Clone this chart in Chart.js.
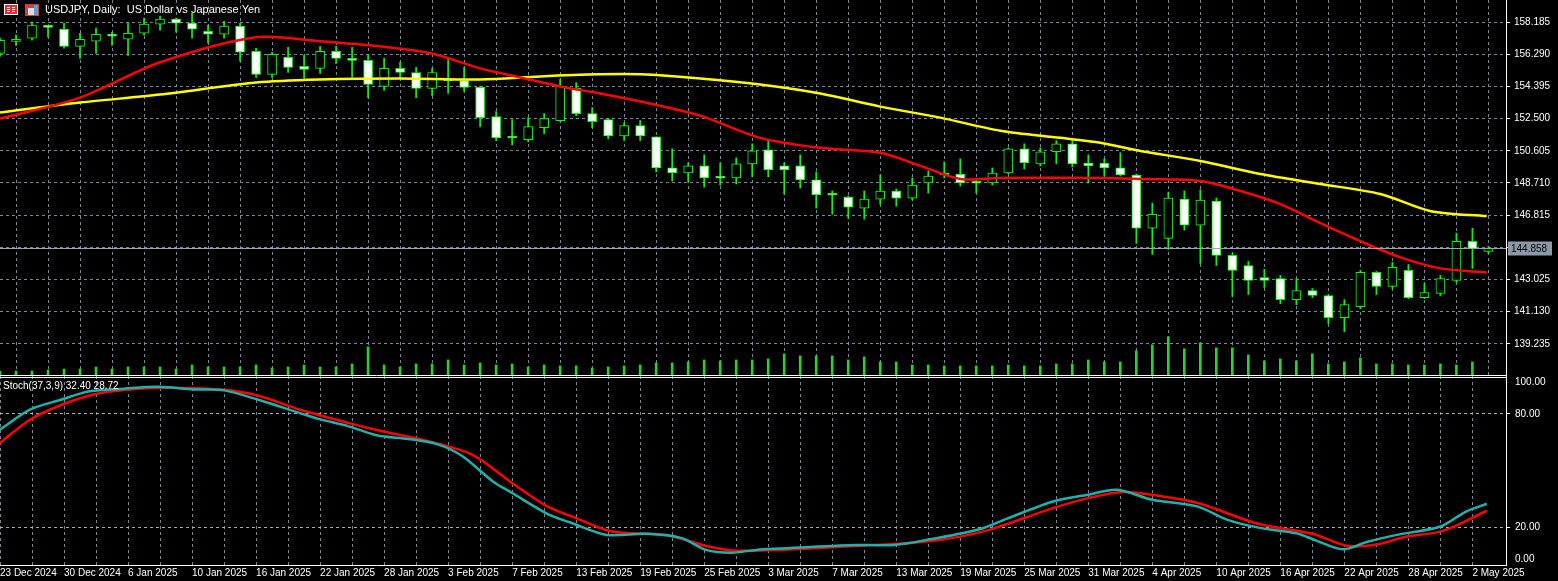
<!DOCTYPE html>
<html><head><meta charset="utf-8">
<script src="https://cdn.jsdelivr.net/npm/chart.js@4.4.1/dist/chart.umd.min.js"></script>
<style>
html,body{margin:0;padding:0;background:#000;overflow:hidden}
#top{position:absolute;left:0;top:0;width:1558px;height:376px}
#bot{position:absolute;left:0;top:376px;width:1558px;height:205px}
</style></head><body>
<div id="top"><canvas id="c1"></canvas></div>
<div id="bot"><canvas id="c2"></canvas></div>
<script>
const dateLabels = {0:'23 Dec 2024',4:'30 Dec 2024',8:'6 Jan 2025',12:'10 Jan 2025',16:'16 Jan 2025',20:'22 Jan 2025',24:'28 Jan 2025',28:'3 Feb 2025',32:'7 Feb 2025',36:'13 Feb 2025',40:'19 Feb 2025',44:'25 Feb 2025',48:'3 Mar 2025',52:'7 Mar 2025',56:'13 Mar 2025',60:'19 Mar 2025',64:'25 Mar 2025',68:'31 Mar 2025',72:'4 Apr 2025',76:'10 Apr 2025',80:'16 Apr 2025',84:'22 Apr 2025',88:'28 Apr 2025',92:'2 May 2025'};
const priceTicks = [139.235,141.130,143.025,144.920,146.815,148.710,150.605,152.500,154.395,156.290,158.185];
const opens  = [156.35,157.05,157.24,157.90,157.77,156.76,157.06,157.47,157.18,157.53,158.07,158.36,158.13,157.65,157.47,157.95,156.47,155.11,156.11,155.58,155.46,156.47,156.05,155.93,154.40,155.46,155.22,154.28,154.76,154.75,154.34,152.62,151.38,151.26,151.97,152.38,154.28,152.80,152.44,151.49,152.09,151.43,149.60,149.30,149.72,149.02,149.01,149.84,150.67,149.72,149.72,148.89,148.01,147.88,147.23,147.76,148.24,147.82,148.71,149.19,149.24,148.72,148.71,149.30,150.72,149.84,150.55,151.02,149.89,149.89,149.60,149.18,146.05,145.45,147.76,146.22,147.64,144.45,143.85,143.14,143.08,141.84,142.37,142.08,140.77,141.43,143.44,142.61,143.56,141.96,142.20,142.97,145.28,144.68];
const highs  = [157.24,157.42,158.19,157.92,158.13,157.53,157.83,157.59,158.13,158.42,158.54,158.42,158.72,158.01,158.24,158.13,156.65,156.41,156.70,156.23,156.76,156.76,156.70,156.23,156.05,155.82,155.52,155.46,156.05,155.52,154.40,152.91,152.44,152.56,152.80,154.81,154.63,153.15,152.50,152.26,152.38,151.43,150.72,149.89,150.37,149.89,150.19,151.02,151.20,149.89,150.37,149.36,148.24,147.94,148.24,149.18,148.35,149.01,149.42,149.95,150.13,148.95,149.60,150.78,151.02,150.78,151.20,151.20,150.37,150.13,150.49,149.24,147.52,148.18,148.24,148.30,147.82,144.56,144.09,143.62,143.26,143.08,142.49,142.14,141.84,143.56,143.50,144.03,143.91,142.79,143.26,145.75,146.04,144.98];
const lows   = [156.17,156.82,157.12,157.30,156.65,156.05,156.35,156.82,156.23,157.42,157.71,157.59,157.24,156.94,157.24,155.88,154.93,154.93,155.22,154.87,155.17,155.76,154.93,153.74,154.16,154.93,153.74,153.86,153.98,154.10,152.03,151.20,150.96,151.14,151.61,152.32,152.68,151.97,151.32,151.20,151.20,149.36,148.83,148.77,148.47,148.59,148.65,149.07,149.07,148.06,148.41,147.23,146.87,146.64,146.58,147.45,147.35,147.70,148.12,149.01,148.53,148.12,148.59,149.24,149.54,149.72,149.84,149.66,148.71,149.12,149.12,145.16,144.50,144.80,145.93,143.97,143.85,142.02,142.14,142.55,141.60,141.54,141.96,140.42,139.95,141.31,142.14,142.49,141.90,141.90,142.08,142.85,143.68,144.56];
const closes = [157.12,157.08,158.01,157.88,156.76,157.18,157.47,157.36,157.53,158.07,158.36,158.13,157.77,157.47,157.95,156.41,155.11,156.29,155.52,155.40,156.47,156.05,155.93,154.51,155.46,155.22,154.28,155.22,154.73,154.34,152.56,151.37,151.36,152.03,152.50,154.40,152.80,152.32,151.49,152.09,151.49,149.60,149.30,149.72,149.01,149.00,149.84,150.60,149.48,149.48,148.89,148.00,147.99,147.29,147.76,148.24,147.82,148.59,149.12,149.18,148.71,148.70,149.30,150.72,149.89,150.55,151.02,149.84,149.72,149.60,149.18,146.05,146.87,147.82,146.22,147.70,144.45,143.56,142.97,142.97,141.84,142.37,142.08,140.77,141.54,143.44,142.61,143.74,141.96,142.26,143.08,145.28,144.86,144.86];
const volumes = [5,5,5,6,7,7,9,7,9,9,9,7,11,9,9,9,11,8,9,11,9,9,12,29,11,9,12,12,16,11,13,11,12,9,11,10,10,8,9,10,11,13,13,14,16,15,16,16,17,22,20,20,20,16,19,14,14,11,11,10,10,10,10,11,10,10,12,12,16,14,14,25,31,39,27,33,28,28,21,15,17,15,22,12,14,18,12,12,11,11,12,11,14,0];
const maRedX = [0,5,10,16,20,23.1,26.9,30,32.5,35,37.5,40.6,43.75,47.5,51.25,55,57.5,60,62.5,68.75,71.25,75,77.5,80,82.5,85,87.5,90,92.9];
const maRedY = [152.50,153.74,155.82,157.30,157.06,156.82,156.35,155.46,154.93,154.40,153.98,153.39,152.68,151.37,150.78,150.49,149.72,148.95,149.01,149.01,148.95,148.83,148.24,147.47,146.34,145.28,144.33,143.68,143.44];
const maYelX = [0,5,10,16,20,25,30,33.75,37.5,40,43.75,47.5,51.25,55,58.75,62.5,66.25,68.75,71.25,75,78.75,82.5,86.25,89.4,92.9];
const maYelY = [152.86,153.45,153.92,154.63,154.81,154.87,154.81,154.99,155.11,155.11,154.87,154.51,153.98,153.21,152.56,151.79,151.37,151.08,150.60,150.01,149.24,148.65,148.06,147.05,146.76];
const stMainX = [0,1.9,3.75,5.6,7.75,9.9,12.1,14,16.2,18.7,19.9,21.75,23.6,25.5,27.4,28.9,30.8,32,34.2,35.75,37.9,40.4,42.6,44.1,45.7,47.25,48.75,53.4,55.9,58.1,61.2,63,65.8,68,69.8,72,74.8,76.7,78.8,81,82.25,83.9,85.4,87.2,90,91.6,92.9];
const stMainY = [71.7,82.3,87.3,91.9,93.3,94.3,92.9,92.4,87.3,80.5,77.3,73.5,68.5,66.7,63.7,57.5,44.2,38.1,27.1,22.1,15.9,16.5,14.2,8.0,6.5,8.0,8.7,10.6,10.6,13.6,18.9,24.8,33.6,37.2,39.8,34.5,31.0,23.9,19.5,16.8,12.9,8.3,12.2,15.8,20.4,28.3,32.4];
const stSigX = [0,1.9,3.75,5.9,7.75,10.25,14,16.2,18.7,21.75,23.6,26.75,29.5,32,34.2,36,38.25,41.6,44.1,46,48.75,53.4,56.2,59,61.8,65.8,68,70.2,72.4,74.9,78.6,82,84.2,86.1,87.7,90.2,92.9];
const stSigY = [64.6,77.0,84.4,90.3,92.6,93.8,92.7,89.4,82.3,75.2,71.3,65.5,58.4,43.4,31.0,24.8,17.7,15.9,10.1,7.6,8.0,10.1,11.2,13.6,18.6,30.1,35.4,38.6,36.6,32.7,21.8,16.5,10.1,11.0,14.7,18.2,28.7];
const lastPrice = 144.858;
const stochLabel = 'Stoch(37,3,9) 32.40 28.72';
const titleText = 'USDJPY, Daily:  US Dollar vs Japanese Yen';

const XMAX = 94.1;
const GRID = '#778899';
const LIME = '#00ff00';
const FONT = {family:'Liberation Sans', size:10};
const idx = opens.map((_,i)=>i);
const bull = idx.map(i=>closes[i]>=opens[i]);
const pts = (xs,ys)=>xs.map((x,i)=>({x,y:ys[i]}));
function fixW(a){a.width=52;a.paddingTop=0;a.paddingBottom=0;}

const topPlugin = {
  id:'topDeco',
  afterDatasetsDraw(c){
    const ctx=c.ctx, y=c.scales.y, a=c.chartArea;
    const py=Math.round(y.getPixelForValue(lastPrice))+0.5;
    ctx.save();
    ctx.strokeStyle='#9aa6b2';ctx.lineWidth=1;
    ctx.beginPath();ctx.moveTo(a.left,py);ctx.lineTo(a.right,py);ctx.stroke();
    ctx.fillStyle='#8c9aa8';ctx.fillRect(a.right+2,py-7,44,14);
    ctx.fillStyle='#000';ctx.font='10px Liberation Sans';ctx.textBaseline='middle';ctx.textAlign='left';
    ctx.fillText(lastPrice.toFixed(3),a.right+5,py+0.5);
    // title & icons
    ctx.fillStyle='#fff';ctx.fillRect(4,4,14,11);ctx.fillStyle='#e03030';ctx.fillRect(5,5,12,9);
    ctx.fillStyle='#fff';ctx.fillRect(7,7,3,1);ctx.fillRect(7,9,3,1);ctx.fillRect(7,11,3,1);ctx.fillRect(12,7,3,1);ctx.fillRect(12,9,3,1);ctx.fillRect(12,11,3,1);
    ctx.fillStyle='#d04040';ctx.fillRect(25,4,14,12);ctx.fillStyle='#ddd';ctx.fillRect(28,8,6,7);ctx.fillStyle='#5aa0d0';ctx.fillRect(34,5,4,10);
    ctx.fillStyle='#fff';ctx.font='11px Liberation Sans';ctx.textBaseline='middle';
    ctx.fillText(titleText,45,10);
    ctx.strokeStyle='#fff';ctx.beginPath();ctx.moveTo(0,375.5);ctx.lineTo(a.right,375.5);ctx.stroke();
    ctx.restore();
  }
};
const botPlugin = {
  id:'botDeco',
  afterDraw(c){
    const ctx=c.ctx, y=c.scales.y, a=c.chartArea;
    ctx.save();
    ctx.strokeStyle='#fff';ctx.lineWidth=1;
    ctx.beginPath();ctx.moveTo(0,1.5);ctx.lineTo(a.right,1.5);ctx.stroke();
    ctx.fillStyle='#fff';ctx.font='10px Liberation Sans';ctx.textBaseline='middle';ctx.textAlign='left';
    [[100,6],[80,0],[20,0],[0,-6]].forEach(([v,off])=>{ctx.fillText(v.toFixed(2),a.right+9,y.getPixelForValue(v)+off);});
    ctx.fillText(stochLabel,3,10);
    ctx.restore();
  }
};

new Chart(document.getElementById('c1'),{
  type:'bar',
  data:{datasets:[
    {type:'line',label:'MA red',data:pts(maRedX,maRedY),borderColor:'#ff0000',borderWidth:2.5,pointRadius:0,tension:0.3,yAxisID:'y',order:1},
    {type:'line',label:'MA yellow',data:pts(maYelX,maYelY),borderColor:'#ffff00',borderWidth:2.5,pointRadius:0,tension:0.3,yAxisID:'y',order:1},
    {label:'body',data:idx.map(i=>({x:i,y:[opens[i],closes[i]]})),backgroundColor:idx.map(i=>bull[i]?'#000':'#fff'),borderColor:LIME,borderWidth:1,borderSkipped:false,barThickness:9,minBarLength:2,yAxisID:'y',order:2,grouped:false},
    {label:'wick',data:idx.map(i=>({x:i,y:[lows[i],highs[i]]})),backgroundColor:LIME,borderWidth:0,barThickness:1,yAxisID:'y',order:3,grouped:false},
    {label:'volume',data:idx.map(i=>({x:i,y:volumes[i]})),backgroundColor:'#32cd32',barThickness:2,yAxisID:'vol',order:4,grouped:false}
  ]},
  options:{
    responsive:true,maintainAspectRatio:false,animation:false,
    layout:{padding:0},
    plugins:{legend:{display:false},tooltip:{enabled:false}},
    scales:{
      x:{type:'linear',min:0,max:XMAX,offset:false,
        afterBuildTicks(s){s.ticks=[];for(let k=0;k<=93;k+=2)s.ticks.push({value:k});},
        ticks:{display:false},grid:{color:GRID,drawTicks:false},border:{display:false,dash:[3,3]},
        afterFit(s){s.height=0;}},
      y:{position:'right',min:137.34,max:159.49,
        afterBuildTicks(s){s.ticks=priceTicks.map(v=>({value:v}));},
        ticks:{color:'#fff',font:FONT,padding:4,callback:v=>v.toFixed(3)},
        grid:{color:GRID,tickLength:4,tickColor:'#fff'},border:{color:'#fff',dash:[3,3]},
        afterFit:fixW},
      vol:{display:false,min:0,max:374}
    }
  },
  plugins:[topPlugin]
});

new Chart(document.getElementById('c2'),{
  type:'line',
  data:{datasets:[
    {label:'main',data:pts(stMainX,stMainY),borderColor:'#20b2aa',borderWidth:2.5,pointRadius:0,tension:0.3},
    {label:'signal',data:pts(stSigX,stSigY),borderColor:'#ff0000',borderWidth:2.5,pointRadius:0,tension:0.3}
  ]},
  options:{
    responsive:true,maintainAspectRatio:false,animation:false,
    layout:{padding:0},
    plugins:{legend:{display:false},tooltip:{enabled:false}},
    scales:{
      x:{type:'linear',min:0,max:XMAX,
        afterBuildTicks(s){s.ticks=[];for(let k=0;k<=93;k+=2)s.ticks.push({value:k});},
        ticks:{color:'#fff',font:FONT,align:'start',padding:2,maxRotation:0,autoSkip:false,callback:v=>dateLabels[v]||''},
        grid:{color:GRID,drawTicks:false},border:{color:'#fff',dash:[3,3]},
        afterFit(s){s.height=16;s.paddingLeft=0;s.paddingRight=0;}},
      y:{position:'right',min:0,max:100,
        afterBuildTicks(s){s.ticks=[20,80].map(v=>({value:v}));},
        ticks:{display:false},
        grid:{color:'#aaaaaa',tickLength:4,tickColor:'#fff'},border:{color:'#fff',dash:[3,3]},
        afterFit:fixW}
    }
  },
  plugins:[botPlugin]
});
</script></body></html>
